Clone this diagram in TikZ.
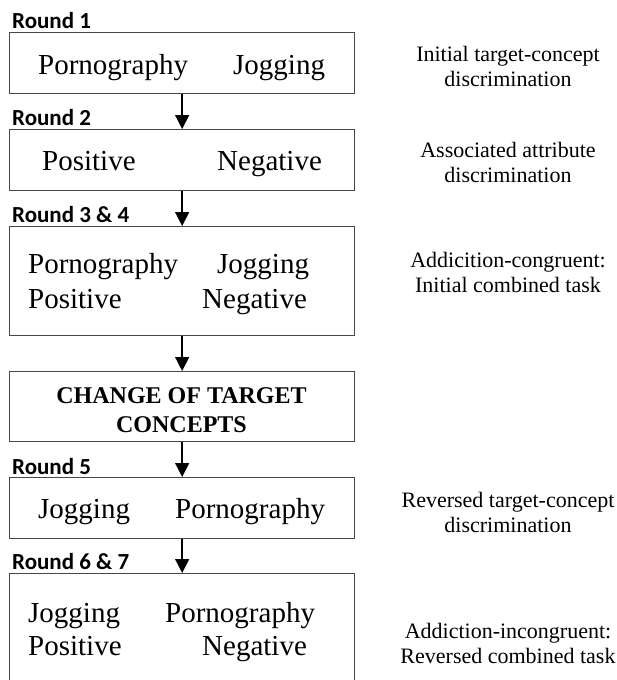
\documentclass[tikz,border=0pt]{standalone}
\usepackage{fontspec}
\setmainfont{Liberation Serif}
\newfontfamily\roundfont{Carlito}
\usetikzlibrary{arrows.meta}
\begin{document}
\begin{tikzpicture}[x=1pt,y=-1pt,
  box/.style={draw=black!72,line width=1.3pt,rectangle,inner sep=0pt,anchor=north west,minimum width=345pt},
  flow/.style={line width=1.4pt,-{Triangle[width=14pt,length=14pt]}},
  roundlbl/.style={anchor=base west,inner sep=0pt,font=\roundfont\bfseries\fontsize{23}{26}\selectfont},
  item/.style={anchor=base west,inner sep=0pt,font=\fontsize{29}{33}\selectfont},
  note/.style={anchor=base,inner sep=0pt,align=center,font=\fontsize{22}{25}\selectfont},
  change/.style={anchor=base,inner sep=0pt,align=center,font=\bfseries\fontsize{24}{29}\selectfont}]
\useasboundingbox (0,0) rectangle (617,680);
\clip (0,0) rectangle (617,680);
% boxes
\node[box,minimum height=61pt] (b1) at (9,32) {};
\node[box,minimum height=61pt] (b2) at (9,129) {};
\node[box,minimum height=109pt] (b3) at (9,226) {};
\node[box,minimum height=70pt] (b4) at (9,371) {};
\node[box,minimum height=61pt] (b5) at (9,477) {};
\node[box,minimum height=130pt] (b6) at (9,573) {};
% arrows
\draw[flow] (b1.south) -- (b2.north);
\draw[flow] (b2.south) -- (b3.north);
\draw[flow] (b3.south) -- (b4.north);
\draw[flow] (b4.south) -- (b5.north);
\draw[flow] (b5.south) -- (b6.north);
% round labels
\node[roundlbl] (r1) at (12,28) {Round 1};
\node[roundlbl] (r2) at (12,125) {Round 2};
\node[roundlbl] (r3) at (12,222) {Round 3 \& 4};
\node[roundlbl] (r5) at (12,474) {Round 5};
\node[roundlbl] (r6) at (12,569) {Round 6 \& 7};
% box contents
\node[item] (t1a) at (38,74) {Pornography};
\node[item] (t1b) at (233,74) {Jogging};
\node[item] (t2a) at (42,170) {Positive};
\node[item] (t2b) at (217,170) {Negative};
\node[item] (t3a) at (28,273) {Pornography};
\node[item] (t3b) at (217,273) {Jogging};
\node[item] (t3c) at (28,308) {Positive};
\node[item] (t3d) at (202,308) {Negative};
\node[change] (t4) at (181.5,432) {CHANGE OF TARGET\\CONCEPTS};
\node[item] (t5a) at (38,518) {Jogging};
\node[item] (t5b) at (175,518) {Pornography};
\node[item] (t6a) at (28,622) {Jogging};
\node[item] (t6b) at (165,622) {Pornography};
\node[item] (t6c) at (28,655) {Positive};
\node[item] (t6d) at (202,655) {Negative};
% notes
\node[note] (n1) at (508,86) {Initial target-concept\\discrimination};
\node[note] (n2) at (508,182) {Associated attribute\\discrimination};
\node[note] (n3) at (508,292) {Addicition-congruent:\\Initial combined task};
\node[note] (n5) at (508,532) {Reversed target-concept\\discrimination};
\node[note] (n6) at (508,663) {Addiction-incongruent:\\Reversed combined task};
\end{tikzpicture}
\end{document}
